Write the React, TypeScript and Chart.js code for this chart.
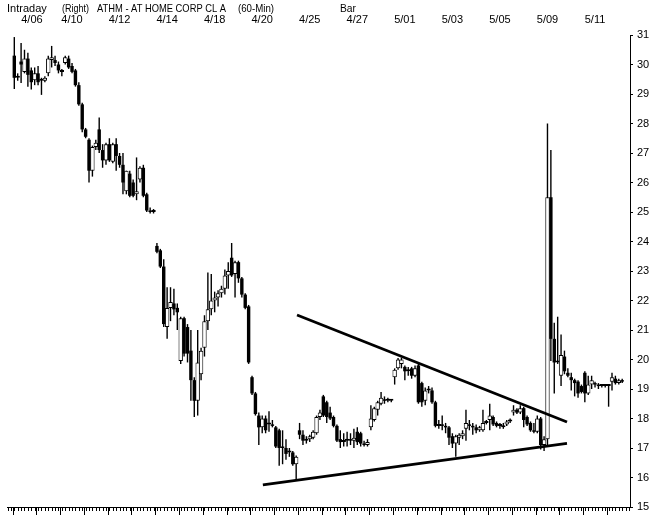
import { useEffect, useRef } from 'react';
import { Chart, registerables } from 'chart.js';

Chart.register(...registerables);

// Trading days (7 hourly bars per day; last day partial)
const tradingDays = [
  '4/06', '4/07', '4/10', '4/11', '4/12', '4/13', '4/14', '4/17', '4/18', '4/19',
  '4/20', '4/24', '4/25', '4/26', '4/27', '4/28', '5/01', '5/02', '5/03', '5/04',
  '5/05', '5/08', '5/09', '5/10', '5/11', '5/12',
];
const labeledDays = [0, 2, 4, 6, 8, 10, 12, 14, 16, 18, 20, 22, 24];
const BARS_PER_DAY = 7;

const opens = [
  30.3, 29.55, 30.1, 29.75, 30.2, 29.8, 29.47,
  29.7, 29.45, 29.45, 29.7, 30.15, 30.15, 30.0,
  29.75, 30.05, 30.2, 29.95, 29.8, 29.3, 28.65,
  27.8, 27.45, 26.4, 27.2, 27.8, 27.1, 26.75,
  27.3, 26.7, 27.3, 26.9, 26.6, 25.7, 26.3,
  26.0, 25.6, 26.1, 26.5, 25.6, 25.05, 25.0,
  23.85, 23.7, 23.15, 21.1, 21.75, 21.9, 21.75,
  19.95, 21.4, 21.1, 20.3, 19.3, 18.6, 19.5,
  20.4, 21.3, 21.7, 22.0, 22.1, 22.25, 22.4,
  22.85, 23.45, 22.9, 23.3, 22.75, 22.2, 21.8,
  19.4, 18.85, 18.1, 17.7, 18.0, 17.8, 17.8,
  17.7, 17.6, 17.05, 17.0, 16.85, 16.85, 16.45,
  17.6, 17.45, 17.25, 17.3, 17.35, 17.5, 18.05,
  18.75, 18.55, 18.2, 18.05, 17.75, 17.3, 17.2,
  17.25, 17.3, 17.25, 17.55, 17.5, 17.15, 17.1,
  17.7, 17.95, 18.3, 18.5, 18.65, 18.6, 18.6,
  19.4, 19.7, 19.85, 19.75, 19.6, 19.7, 19.45,
  19.8, 19.2, 18.6, 18.95, 18.95, 18.55, 17.75,
  17.8, 17.75, 17.7, 17.4, 17.15, 17.35, 17.4,
  17.65, 17.8, 17.75, 17.7, 17.6, 17.6, 17.85,
  17.95, 18.05, 17.85, 17.75, 17.7, 17.8, 17.9,
  18.2, 18.3, 18.2, 18.35, 18.05, 17.85, 17.6,
  17.55, 18.0, 17.1, 17.3, 25.5, 20.7, 19.9,
  19.45, 20.1, 19.55, 19.4, 19.3, 19.25, 19.1,
  19.55, 18.85, 19.15, 19.2, 19.15, 19.1, 19.1,
  19.1, 19.25, 19.35, 19.2, 19.3,
];
const highs = [
  30.93, 29.7, 30.73, 30.5, 30.4, 29.9, 29.9,
  29.95, 29.55, 29.6, 30.3, 30.63, 30.3, 30.1,
  29.85, 30.3, 30.3, 30.05, 29.85, 29.4, 28.7,
  27.85, 27.5, 27.25, 27.45, 28.2, 27.3, 27.35,
  27.5, 27.35, 27.5, 27.0, 27.0, 26.4, 26.4,
  26.1, 26.85, 26.55, 26.6, 25.65, 25.15, 25.1,
  23.95, 23.75, 23.4, 22.45, 22.45, 22.4, 21.9,
  21.45, 21.45, 21.2, 21.0, 19.4, 21.0, 20.4,
  21.5, 22.95, 22.9, 22.3, 22.35, 22.5, 23.05,
  23.3, 23.95, 23.35, 23.35, 22.8, 22.25, 21.85,
  19.45, 18.9, 18.2, 18.1, 18.1, 18.25, 17.95,
  17.75, 17.65, 17.6, 17.3, 17.0, 16.9, 16.75,
  17.85, 17.6, 17.4, 17.45, 17.6, 18.1, 18.3,
  18.8, 18.6, 18.4, 18.1, 17.8, 17.6, 17.5,
  17.55, 17.5, 17.65, 17.7, 17.55, 17.25, 17.3,
  18.45, 18.4, 18.6, 18.9, 18.75, 18.7, 18.65,
  19.7, 20.05, 20.05, 19.8, 19.75, 19.75, 19.8,
  19.85, 19.25, 19.05, 19.1, 19.05, 18.6, 17.95,
  18.1, 17.85, 17.75, 17.5, 17.45, 17.5, 17.6,
  18.3, 17.95, 17.85, 17.8, 17.75, 18.3, 17.95,
  18.5, 18.1, 17.9, 17.85, 17.85, 17.95, 18.0,
  18.45, 18.35, 18.45, 18.4, 18.1, 17.9, 17.85,
  18.1, 18.05, 17.4, 28.0, 27.1, 21.25, 21.45,
  20.85, 20.3, 19.7, 19.55, 19.35, 19.3, 19.15,
  19.6, 19.45, 19.45, 19.25, 19.2, 19.15, 19.15,
  19.15, 19.55, 19.45, 19.35, 19.35,
];
const lows = [
  29.17, 29.45, 29.37, 29.7, 29.25, 29.15, 29.3,
  29.3, 28.97, 29.4, 29.6, 29.9, 29.95, 29.7,
  29.6, 30.0, 29.85, 29.7, 29.25, 28.6, 27.7,
  27.5, 26.0, 26.2, 27.1, 27.0, 26.5, 26.6,
  26.7, 26.65, 26.4, 26.5, 25.6, 25.6, 25.5,
  25.5, 25.4, 26.0, 25.5, 25.0, 24.95, 24.95,
  23.6, 23.1, 21.1, 20.7, 21.3, 21.5, 21.0,
  19.85, 20.1, 19.9, 18.6, 18.05, 18.1, 19.3,
  20.1, 21.0, 21.5, 21.6, 21.8, 22.1, 22.2,
  22.4, 22.8, 22.1, 22.6, 22.1, 21.7, 19.85,
  18.8, 18.1, 17.1, 17.5, 17.5, 17.55, 17.7,
  17.0, 16.4, 16.45, 16.6, 16.7, 16.4, 15.9,
  17.3, 17.1, 17.15, 17.2, 17.3, 17.45, 17.95,
  18.05, 17.85, 17.95, 17.7, 17.2, 17.0, 17.05,
  17.05, 17.1, 17.0, 17.1, 17.05, 17.05, 17.05,
  17.6, 17.9, 18.1, 18.45, 18.5, 18.55, 18.55,
  19.15, 19.65, 19.7, 19.3, 19.45, 19.35, 19.4,
  18.5, 18.4, 18.45, 18.85, 18.5, 17.7, 17.65,
  17.6, 17.5, 17.1, 17.0, 16.7, 17.1, 17.3,
  17.25, 17.6, 17.45, 17.5, 17.55, 17.55, 17.8,
  17.6, 17.75, 17.7, 17.65, 17.65, 17.75, 17.85,
  18.1, 18.15, 18.15, 17.7, 17.75, 17.55, 17.5,
  17.5, 16.95, 16.9, 17.1, 19.95, 18.85, 19.85,
  19.1, 19.5, 19.4, 18.95, 18.75, 18.7, 18.85,
  18.55, 18.8, 19.0, 19.05, 19.0, 19.05, 19.05,
  18.4, 18.95, 19.15, 19.15, 19.2,
];
const closes = [
  29.55, 29.6, 30.0, 30.2, 29.65, 29.4, 29.7,
  29.4, 29.5, 29.55, 30.2, 30.25, 30.05, 29.8,
  29.8, 30.25, 29.9, 29.75, 29.3, 28.65, 27.8,
  27.55, 26.4, 27.2, 27.35, 27.1, 26.75, 27.3,
  26.75, 27.3, 26.9, 26.6, 26.0, 26.4, 25.55,
  25.55, 25.7, 26.5, 25.55, 25.05, 25.0, 25.0,
  23.65, 23.15, 21.2, 21.75, 21.95, 21.7, 21.6,
  21.4, 20.2, 20.2, 19.3, 18.6, 19.9, 20.3,
  21.3, 21.7, 22.0, 22.1, 22.25, 22.4, 22.85,
  23.0, 22.85, 23.3, 22.75, 22.2, 21.75, 19.9,
  18.85, 18.15, 17.7, 18.0, 17.6, 17.85, 17.75,
  17.05, 17.0, 17.0, 16.8, 16.9, 16.45, 16.7,
  17.45, 17.25, 17.3, 17.4, 17.55, 18.05, 18.2,
  18.1, 18.05, 18.0, 17.75, 17.25, 17.2, 17.25,
  17.3, 17.25, 17.35, 17.2, 17.15, 17.1, 17.2,
  18.0, 18.35, 18.55, 18.7, 18.6, 18.65, 18.6,
  19.65, 20.0, 20.0, 19.6, 19.65, 19.45, 19.7,
  18.55, 18.55, 18.95, 19.0, 18.55, 17.75, 17.8,
  17.75, 17.7, 17.35, 17.15, 17.4, 17.45, 17.5,
  17.85, 17.75, 17.7, 17.6, 17.7, 17.85, 17.9,
  18.1, 17.8, 17.75, 17.8, 17.75, 17.9, 17.95,
  18.3, 18.2, 18.35, 17.95, 17.8, 17.6, 17.55,
  18.0, 17.1, 17.3, 25.5, 20.7, 19.9, 19.95,
  20.15, 19.6, 19.45, 19.3, 19.2, 18.85, 18.9,
  18.85, 19.15, 19.3, 19.15, 19.1, 19.1, 19.1,
  19.1, 19.4, 19.2, 19.3, 19.25,
];

// Hand-drawn trendlines (bar index, price)
const resistanceX = [83.25, 162.75];
const resistanceY = [21.51, 17.88];
const supportX = [73.2, 162.75];
const supportY = [15.75, 17.16];

const PRICE_MIN = 15;
const PRICE_MAX = 31;
const X_MIN = -2.15;
const X_MAX = 181.3;

const FONT = '"Liberation Sans", Arial, Helvetica, sans-serif';

const headerTexts: [string, number, number][] = [
  ['Intraday', 7, 40],
  ['(Right)', 62, 27],
  ['ATHM - AT HOME CORP CL A', 97, 129],
  ['(60-Min)', 238, 36],
  ['Bar', 340, 16],
];

const extrasPlugin = {
  id: 'extras',
  afterDraw(chart: any) {
    const ctx = chart.ctx;
    const xs = chart.scales.xb;
    const { left, right, bottom } = chart.chartArea;
    ctx.save();
    ctx.strokeStyle = '#000';
    ctx.lineWidth = 1;
    ctx.beginPath();
    // short tick per hourly bar
    for (let i = -2; i < closes.length + 2; i++) {
      const px = Math.round(xs.getPixelForValue(i)) + 0.5;
      if (px < left || px > right) continue;
      ctx.moveTo(px, bottom);
      ctx.lineTo(px, bottom + 4);
    }
    // long tick per trading day
    for (let d = 0; d <= tradingDays.length; d++) {
      const px = Math.round(xs.getPixelForValue(d * BARS_PER_DAY - 0.5)) + 0.5;
      if (px < left || px > right) continue;
      ctx.moveTo(px, bottom);
      ctx.lineTo(px, bottom + 8);
    }
    ctx.stroke();
    ctx.fillStyle = '#000';
    ctx.font = '11px ' + FONT;
    ctx.textBaseline = 'middle';
    ctx.textAlign = 'left';
    for (const [t, x, w] of headerTexts) {
      ctx.fillText(t, x, 9, w);
    }
    ctx.restore();
  },
};

export default function App() {
  const ref = useRef<HTMLCanvasElement>(null);

  useEffect(() => {
    if (!ref.current) return;
    const wicks = closes.map((_, i) => ({ x: i, y: [lows[i], highs[i]] }));
    const upBodies: any[] = [];
    const downBodies: any[] = [];
    closes.forEach((c, i) => {
      const o = opens[i];
      if (c >= o) upBodies.push({ x: i, y: [o, c] });
      else downBodies.push({ x: i, y: [c, o] });
    });

    const chart = new Chart(ref.current, {
      type: 'bar',
      data: {
        datasets: [
          {
            type: 'line',
            data: resistanceX.map((x, i) => ({ x, y: resistanceY[i] })),
            borderColor: '#000',
            borderWidth: 2.8,
            pointRadius: 0,
            xAxisID: 'x',
            yAxisID: 'y',
            order: 0,
          } as any,
          {
            type: 'line',
            data: supportX.map((x, i) => ({ x, y: supportY[i] })),
            borderColor: '#000',
            borderWidth: 2.8,
            pointRadius: 0,
            xAxisID: 'x',
            yAxisID: 'y',
            order: 0,
          } as any,
          {
            data: wicks,
            backgroundColor: '#000',
            barThickness: 1.4,
            grouped: false,
            inflateAmount: 0,
            xAxisID: 'x',
            yAxisID: 'y',
            order: 3,
          } as any,
          {
            data: downBodies,
            backgroundColor: '#000',
            barThickness: 3.4,
            grouped: false,
            minBarLength: 1.5,
            inflateAmount: 0,
            xAxisID: 'x',
            yAxisID: 'y',
            order: 2,
          } as any,
          {
            data: upBodies,
            backgroundColor: '#fff',
            borderColor: '#000',
            borderWidth: 1,
            borderSkipped: false,
            barThickness: 4.4,
            grouped: false,
            minBarLength: 2,
            inflateAmount: 0,
            xAxisID: 'x',
            yAxisID: 'y',
            order: 1,
          } as any,
        ],
      },
      options: {
        responsive: false,
        animation: false,
        layout: { padding: { left: 7, right: 0, top: 0, bottom: 0 } },
        plugins: { legend: { display: false }, tooltip: { enabled: false } },
        scales: {
          x: {
            type: 'linear',
            position: 'top',
            min: X_MIN,
            max: X_MAX,
            offset: false,
            grid: { display: false, drawTicks: false },
            border: { display: false },
            ticks: {
              autoSkip: false,
              maxRotation: 0,
              padding: 8,
              color: '#000',
              font: { family: FONT, size: 11 },
              callback: (v: any) => {
                const d = Math.max(0, Math.round((Number(v) - 3) / BARS_PER_DAY));
                return tradingDays[d] ?? '';
              },
            },
            afterBuildTicks: (s: any) => {
              // first label nudged right so it clears the "Intraday" caption
              s.ticks = labeledDays.map((d) => ({ value: Math.max(d * BARS_PER_DAY + 3, 5.2) }));
            },
            afterFit: (s: any) => {
              s.height = 35;
            },
          },
          xb: {
            type: 'linear',
            position: 'bottom',
            min: X_MIN,
            max: X_MAX,
            offset: false,
            grid: { display: false, drawOnChartArea: false, drawTicks: false },
            border: { display: true, color: '#000', width: 1 },
            ticks: { display: false },
            afterFit: (s: any) => {
              s.height = 19;
            },
          },
          y: {
            type: 'linear',
            position: 'right',
            min: PRICE_MIN,
            max: PRICE_MAX,
            grid: { drawOnChartArea: false, drawTicks: true, tickLength: 3, color: '#000' },
            border: { display: true, color: '#000', width: 1 },
            ticks: {
              stepSize: 1,
              autoSkip: false,
              padding: 4,
              color: '#000',
              font: { family: FONT, size: 11 },
            },
            afterFit: (s: any) => {
              s.width = 23;
            },
          },
        },
      } as any,
      plugins: [extrasPlugin],
    });
    return () => chart.destroy();
  }, []);

  return (
    <div style={{ position: 'fixed', left: 0, top: 0, width: 653, height: 526, background: '#fff' }}>
      <canvas ref={ref} width={653} height={526} style={{ display: 'block' }} />
    </div>
  );
}
